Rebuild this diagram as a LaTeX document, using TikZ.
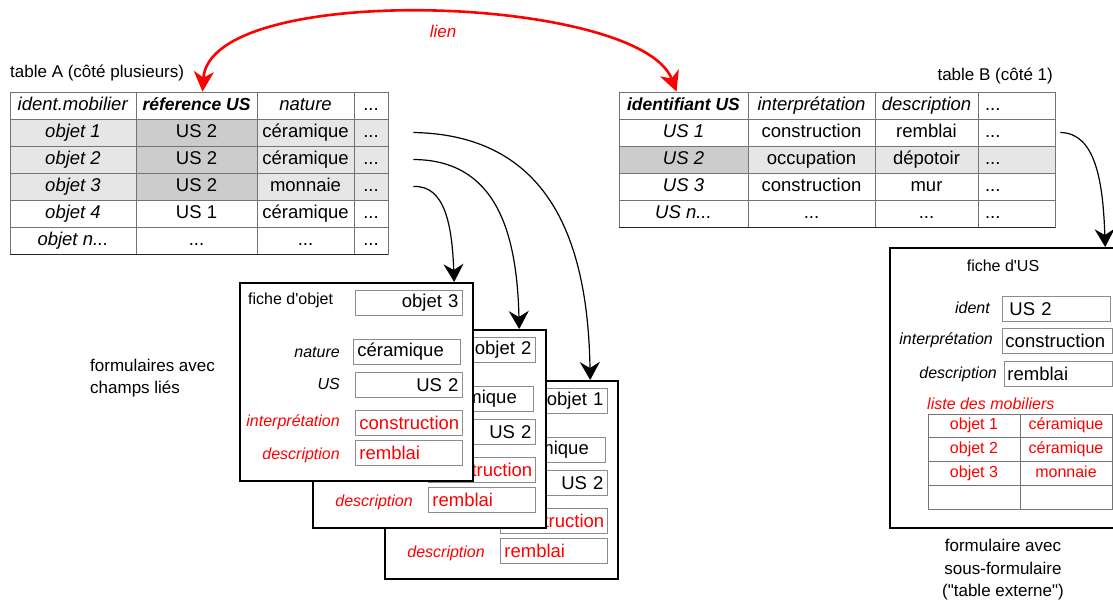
\documentclass[tikz,border=0pt]{standalone}
\usepackage{fontspec}
\setmainfont{Liberation Sans}[Ligatures=TeXOff]
\usetikzlibrary{arrows.meta}

\definecolor{rowgray}{HTML}{E6E6E6}
\definecolor{keygray}{HTML}{CCCCCC}
\definecolor{linkred}{HTML}{FF0000}
\definecolor{boxgray}{HTML}{8C8C8C}

\newcommand\fbig{\fontsize{18.5}{21}\selectfont}
\newcommand\fhead{\fontsize{17.5}{21}\selectfont}
\newcommand\fsmall{\fontsize{16}{19}\selectfont}
\newcommand\fcap{\fontsize{17}{22.5}\selectfont}
\newcommand\ptsusp{...}
\newcommand\apos{\symbol{39}}
\newcommand\dquo{\symbol{34}}

\begin{document}
\begin{tikzpicture}[
  x=1pt, y=-1pt,
  cell/.style={draw=black!55, line width=0.8pt, inner sep=0pt, minimum height=27pt,
    text height=13.5pt, text depth=4pt, font=\fbig},
  fld/.style={draw=boxgray, line width=0.9pt, fill=white, anchor=north west, minimum width=107pt,
    minimum height=25pt, inner xsep=4pt, inner ysep=0pt, text width=99pt, font=\fbig},
  fldl/.style={fld, align=left},
  fldr/.style={fld, align=right},
  lbl/.style={anchor=east, inner sep=0pt, font=\fsmall\itshape},
  frm/.style={draw=black, line width=2.2pt, fill=white, anchor=north west, inner sep=0pt,
    minimum width=233pt, minimum height=198pt},
  subcell/.style={draw=black!55, line width=0.8pt, inner sep=0pt, minimum width=92pt,
    minimum height=23.75pt, text height=11.5pt, text depth=3.5pt, text=linkred, font=\fsmall},
  lnk/.style={-{Stealth[length=18pt, width=20pt, inset=6pt]}, line width=1.2pt},
  redlnk/.style={{Stealth[length=20pt, width=20pt, inset=6pt]}-{Stealth[length=20pt, width=20pt, inset=6pt]},
    draw=linkred, line width=2.6pt}
]
\useasboundingbox (0,0) rectangle (1113,600);
\clip (0,0) rectangle (1113,600);

% table A
\fill[rowgray] (10,119) rectangle (388,200);
\fill[keygray] (136,119) rectangle (257,200);
\node[anchor=west, inner sep=0pt, font=\fcap] (tA) at (10,73) {table A (côté plusieurs)};
\foreach \ca/\cb/\cc/\cd [count=\r from 0] in {
  {\textit{ident.mobilier}}/{\fhead\bfseries\itshape réference US}/{\textit{nature}}/{\ptsusp},
  {\textit{objet 1}}/{US 2}/{céramique}/{\ptsusp},
  {\textit{objet 2}}/{US 2}/{céramique}/{\ptsusp},
  {\textit{objet 3}}/{US 2}/{monnaie}/{\ptsusp},
  {\textit{objet 4}}/{US 1}/{céramique}/{\ptsusp},
  {\textit{objet n\ptsusp}}/{\ptsusp}/{\ptsusp}/{\ptsusp}}{
  \node[cell, minimum width=126pt] (a\r0) at (73,{105.5+27*\r}) {\ca};
  \node[cell, minimum width=121pt] (a\r1) at (196.5,{105.5+27*\r}) {\cb};
  \node[cell, minimum width=97pt] (a\r2) at (305.5,{105.5+27*\r}) {\cc};
  \node[cell, minimum width=34pt] (a\r3) at (371,{105.5+27*\r}) {\cd};
}
\draw[line width=1.6pt, black!85] (a50.south west) -- (a53.south east);

% table B
\fill[rowgray] (619,147) rectangle (1055,173);
\fill[keygray] (619,147) rectangle (748,173);
\node[anchor=east, inner sep=0pt, font=\fcap] (tB) at (1053,76) {table B (côté 1)};
\foreach \ca/\cb/\cc/\cd [count=\r from 0] in {
  {\fhead\bfseries\itshape identifiant US}/{\textit{interprétation}}/{\textit{description}}/{\ptsusp},
  {\textit{US 1}}/{construction}/{remblai}/{\ptsusp},
  {\textit{US 2}}/{occupation}/{dépotoir}/{\ptsusp},
  {\textit{US 3}}/{construction}/{mur}/{\ptsusp},
  {\textit{US n\ptsusp}}/{\ptsusp}/{\ptsusp}/{\ptsusp}}{
  \node[cell, minimum width=129pt] (b\r0) at (683.5,{105.5+27*\r}) {\ca};
  \node[cell, minimum width=127pt] (b\r1) at (811.5,{105.5+27*\r}) {\cb};
  \node[cell, minimum width=103pt] (b\r2) at (926.5,{105.5+27*\r}) {\cc};
  \node[cell, minimum width=77pt, inner xsep=7pt, text width=63pt, align=left] (b\r3) at (1016.5,{105.5+27*\r}) {\cd};
}
\draw[line width=1.6pt, black!85] (b40.south west) -- (b43.south east);

% lien
\draw[redlnk] ([xshift=6pt]a01.north) .. controls (210,-20) and (640,-5) .. ([xshift=-7pt]b00.north);
\node[text=linkred, font=\fcap\itshape] (lien) at (443,31) {lien};

% formulaires (from back to front)
\foreach \i/\ox/\oy in {1/384/380, 2/312/329, 3/239/282}{
  \node[frm] (f\i) at (\ox,\oy) {};
  \node[anchor=west, inner sep=0pt, font=\fsmall] (f\i-t) at ({\ox+9},{\oy+18}) {fiche d\apos objet};
  \node[fldr] (f\i-obj) at ({\ox+116},{\oy+8}) {objet \i};
  \node[lbl] (f\i-ln) at ({\ox+101},{\oy+70}) {nature};
  \node[fldl] (f\i-nat) at ({\ox+114},{\oy+57}) {céramique};
  \node[lbl] (f\i-lu) at ({\ox+101},{\oy+102}) {US};
  \node[fldr] (f\i-us) at ({\ox+116},{\oy+90}) {US 2};
  \node[lbl, text=linkred] (f\i-li) at ({\ox+101},{\oy+140}) {interprétation};
  \node[fldl, text=linkred] (f\i-int) at ({\ox+116},{\oy+128}) {construction};
  \node[lbl, text=linkred] (f\i-ld) at ({\ox+101},{\oy+173}) {description};
  \node[fldl, text=linkred] (f\i-desc) at ({\ox+116},{\oy+158}) {remblai};
}
\node[anchor=west, align=left, inner sep=0pt, font=\fcap] (fcl) at (90,378) {formulaires avec\\champs liés};

% fiche d'US
\node[frm, minimum width=240pt, minimum height=280pt] (fus) at (889,247) {};
\node[font=\fsmall, inner sep=0pt] (fus-t) at (1003,266) {fiche d\apos US};
\node[lbl] (fus-li) at (990,308) {ident};
\node[fldl, inner xsep=7pt, text width=94pt, minimum width=108pt] (fus-id) at (1002,296) {US 2};
\node[lbl] (fus-lin) at (993,340) {interprétation};
\node[fldl, inner xsep=3pt, text width=104pt, minimum width=110pt] (fus-int) at (1002,328) {construction};
\node[lbl] (fus-ld) at (997,374) {description};
\node[fldl, inner xsep=3pt, text width=102pt, minimum width=108pt] (fus-desc) at (1004,361) {remblai};
\node[anchor=west, inner sep=0pt, text=linkred, font=\fsmall\itshape] (fus-lm) at (927,404) {liste des mobiliers};
\foreach \ma/\mb [count=\r from 0] in {objet 1/céramique, objet 2/céramique, objet 3/monnaie, {}/{}}{
  \node[subcell] (m\r0) at (974,{425.9+23.75*\r}) {\ma};
  \node[subcell] (m\r1) at (1066,{425.9+23.75*\r}) {\mb};
}
\node[align=center, inner sep=0pt, font=\fcap] (fus-cap) at (1003,570) {formulaire avec\\sous-formulaire\\(\dquo table externe\dquo)};

% liens vers les fiches
\draw[lnk] ([xshift=25pt]a33.east) .. controls (445,185) and (452,225) .. ([xshift=-20pt]f3.north east);
\draw[lnk] ([xshift=25pt]a23.east) .. controls (495,160) and (517,230) .. ([xshift=-28pt]f2.north east);
\draw[lnk] ([xshift=25pt]a13.east) .. controls (555,135) and (588,250) .. ([xshift=-29pt]f1.north east);
\draw[lnk] ([xshift=5pt]b13.east) .. controls (1095,133) and (1103,180) .. ([xshift=-26pt]fus.north east);
\end{tikzpicture}
\end{document}
